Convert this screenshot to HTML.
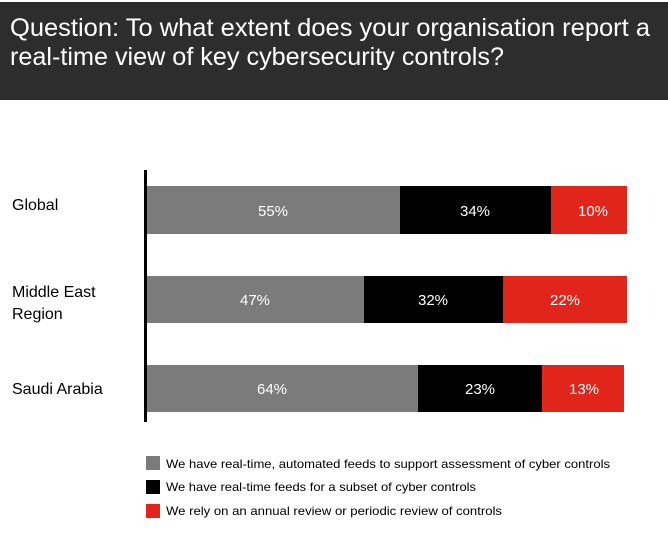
<!DOCTYPE html>
<html><head><style>
body{margin:0;background:#fff;width:668px;height:528px;overflow:hidden}
</style></head><body>
<svg width="668" height="528" xmlns="http://www.w3.org/2000/svg" font-family="'Liberation Sans', sans-serif">
<rect x="0" y="0" width="668" height="528" fill="#fff"/>
<rect x="0" y="2" width="668" height="98" fill="#2d2d2d"/>
<text x="10" y="36" fill="#fff" font-size="25" textLength="640" lengthAdjust="spacingAndGlyphs">Question: To what extent does your organisation report a</text>
<text x="10" y="65" fill="#fff" font-size="25" textLength="494" lengthAdjust="spacingAndGlyphs">real-time view of key cybersecurity controls?</text>
<rect x="144" y="170" width="3" height="252" fill="#000"/>
<g font-size="16" fill="#000">
<text x="12" y="210">Global</text>
<text x="12" y="297">Middle East</text>
<text x="12" y="319">Region</text>
<text x="12" y="394">Saudi Arabia</text>
</g>
<rect x="147" y="186" width="253" height="48" fill="#7b7b7b"/>
<rect x="400" y="186" width="151" height="48" fill="#000"/>
<rect x="551" y="186" width="76" height="48" fill="#e1251b"/>
<rect x="147" y="276" width="217" height="47" fill="#7b7b7b"/>
<rect x="364" y="276" width="139" height="47" fill="#000"/>
<rect x="503" y="276" width="124" height="47" fill="#e1251b"/>
<rect x="147" y="365" width="271" height="47" fill="#7b7b7b"/>
<rect x="418" y="365" width="124" height="47" fill="#000"/>
<rect x="542" y="365" width="82" height="47" fill="#e1251b"/>
<g font-size="15" fill="#fff" text-anchor="middle">
<text x="273" y="216">55%</text><text x="475" y="216">34%</text><text x="593" y="216">10%</text>
<text x="255" y="305">47%</text><text x="433" y="305">32%</text><text x="565" y="305">22%</text>
<text x="272" y="394">64%</text><text x="480" y="394">23%</text><text x="584" y="394">13%</text>
</g>
<rect x="146" y="456" width="14" height="14" fill="#7b7b7b"/>
<rect x="146" y="480" width="14" height="14" fill="#000"/>
<rect x="146" y="504" width="14" height="14" fill="#e1251b"/>
<g font-size="12" fill="#000">
<text x="166" y="468" textLength="444" lengthAdjust="spacingAndGlyphs">We have real-time, automated feeds to support assessment of cyber controls</text>
<text x="166" y="491" textLength="310" lengthAdjust="spacingAndGlyphs">We have real-time feeds for a subset of cyber controls</text>
<text x="166" y="515" textLength="336" lengthAdjust="spacingAndGlyphs">We rely on an annual review or periodic review of controls</text>
</g>
</svg>
</body></html>
